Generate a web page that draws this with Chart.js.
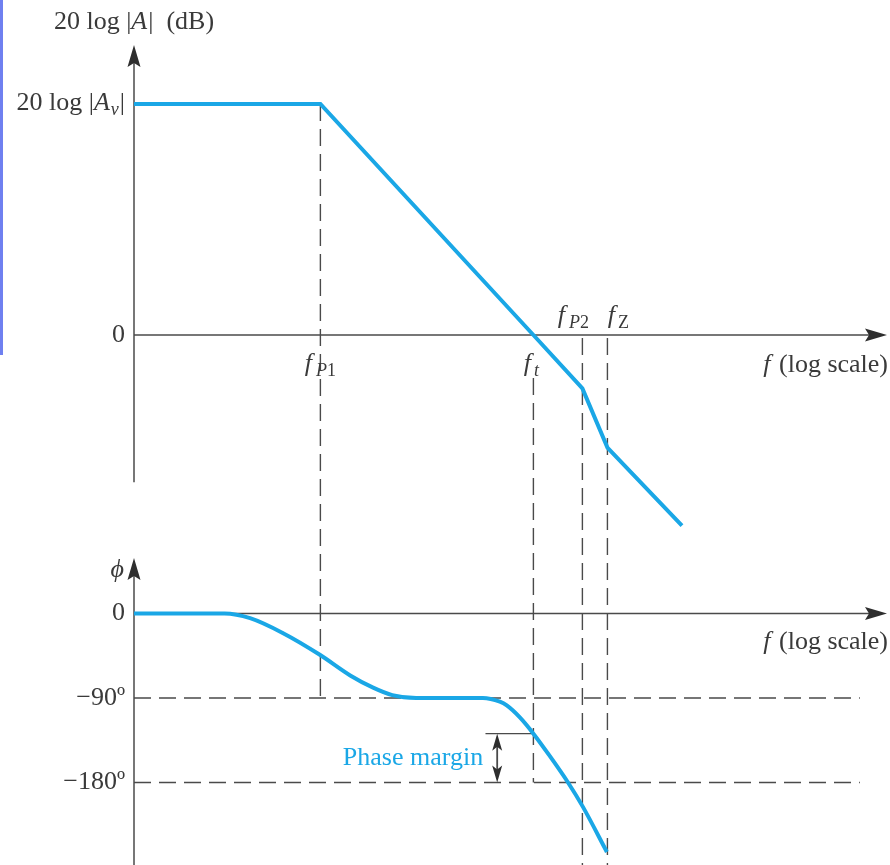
<!DOCTYPE html>
<html>
<head>
<meta charset="utf-8">
<title>Bode plot - phase margin</title>
<script src="https://cdn.jsdelivr.net/npm/chart.js@4.4.1/dist/chart.umd.min.js"></script>
<style>
  body { margin: 0; background: #fff; }
  #wrap { position: relative; width: 890px; height: 865px; }
  #edge { position: absolute; left: 0; top: 0; width: 3px; height: 355px; background: #6f80f0; }
</style>
</head>
<body>
<div id="wrap">
  <canvas id="chart" width="890" height="865"></canvas>
  <div id="edge"></div>
</div>
<script>
// x values are log10(f) in decades, counted from the vertical axis
let gainX = [0, 3.5, 7.5, 8.42, 8.89, 10.29];
let gainDb = [80, 80, 0, -18.5, -39, -66];

let phaseX = [0, 1.7, 2.18, 2.8, 3.49, 4.06, 4.49, 4.85, 5.3, 6.55, 6.87, 7.0, 7.25, 7.5, 7.81, 8.15, 8.43, 8.88];
let phaseDeg = [0, 0, -5, -21, -44, -66, -79, -87, -90, -90, -94, -98, -111, -128, -152, -180, -206, -254];

// break frequencies
let freqX = [3.5, 7.5, 8.42, 8.89];   // fP1, ft, fP2, fZ

let gainTicks = [80, 0];
let phaseTicks = [0, -90, -180];

const INK = "#4a4a4a";
const BLUE = "#1aa7e6";
const SERIF = "'Liberation Serif', 'DejaVu Serif', serif";
const FS = 26;
const SUB = 18;

// 🔤 mixed italic / subscript text
function fontFor(st) {
  let it = st.indexOf("i") >= 0 ? "italic " : "";
  let sz = st.indexOf("s") >= 0 ? SUB : FS;
  return it + sz + "px " + SERIF;
}

function rich(ctx, parts, x, y, align) {
  // third item of a part = extra gap after it
  let w = 0;
  parts.forEach(p => { ctx.font = fontFor(p[1]); w += ctx.measureText(p[0]).width + (p[2] || 0); });
  let cx = x;
  if (align === "right") cx = x - w;
  if (align === "center") cx = x - w / 2;
  ctx.textAlign = "left";
  ctx.textBaseline = "middle";
  parts.forEach(p => {
    ctx.font = fontFor(p[1]);
    let dy = p[1].indexOf("s") >= 0 ? 7 : 0;
    ctx.fillText(p[0], cx, y + dy);
    cx += ctx.measureText(p[0]).width + (p[2] || 0);
  });
}

// ✏️ lines and arrows
function line(ctx, x1, y1, x2, y2, dash) {
  ctx.beginPath();
  ctx.setLineDash(dash || []);
  ctx.moveTo(x1, y1);
  ctx.lineTo(x2, y2);
  ctx.stroke();
  ctx.setLineDash([]);
}

function head(ctx, x, y, dir, len, half) {
  // dir: "up", "down", "right"
  ctx.beginPath();
  if (dir === "up") {
    ctx.moveTo(x, y); ctx.lineTo(x - half, y + len); ctx.lineTo(x, y + len - 4); ctx.lineTo(x + half, y + len);
  } else if (dir === "down") {
    ctx.moveTo(x, y); ctx.lineTo(x - half, y - len); ctx.lineTo(x, y - len + 4); ctx.lineTo(x + half, y - len);
  } else {
    ctx.moveTo(x, y); ctx.lineTo(x - len, y - half); ctx.lineTo(x - len + 4, y); ctx.lineTo(x - len, y + half);
  }
  ctx.closePath();
  ctx.fill();
}

let bodePlugin = {
  id: "bode",
  beforeDatasetsDraw(chart) {
    let ctx = chart.ctx;
    let a = chart.chartArea;
    let sx = chart.scales.x, sg = chart.scales.y, sp = chart.scales.y2;
    let x0 = sx.getPixelForValue(0);
    let g0 = sg.getPixelForValue(0);
    let p0 = sp.getPixelForValue(0);
    let dash = [17, 8];

    ctx.save();
    ctx.strokeStyle = INK;
    ctx.fillStyle = "#2e2e2e";
    ctx.lineWidth = 1.5;

    // axes
    line(ctx, x0, a.top + 8, x0, sg.getPixelForValue(-51));
    line(ctx, x0, g0, a.right - 8, g0);
    line(ctx, x0, sp.getPixelForValue(59) + 8, x0, a.bottom);
    line(ctx, x0, p0, a.right - 8, p0);
    head(ctx, x0, a.top, "up", 22, 6.5);
    head(ctx, a.right, g0, "right", 22, 6.5);
    head(ctx, x0, sp.getPixelForValue(59), "up", 22, 6.5);
    head(ctx, a.right, p0, "right", 22, 6.5);

    // dashed guides
    ctx.lineWidth = 1.4;
    let right = sx.getPixelForValue(13.63);
    phaseTicks.slice(1).forEach(v => {
      let py = sp.getPixelForValue(v);
      line(ctx, x0, py, right, py, dash);
    });
    let fx = freqX.map(v => sx.getPixelForValue(v));
    line(ctx, fx[0], sg.getPixelForValue(gainTicks[0]), fx[0], sp.getPixelForValue(-90), dash);
    line(ctx, fx[1], g0 + 43, fx[1], sp.getPixelForValue(-180), dash);
    line(ctx, fx[2], g0 + 3, fx[2], a.bottom, dash);
    line(ctx, fx[3], g0 + 3, fx[3], a.bottom, dash);

    // phase margin bracket
    let pmIdx = phaseX.indexOf(freqX[1]);
    let pmTop = sp.getPixelForValue(phaseDeg[pmIdx]);
    let pmBot = sp.getPixelForValue(-180);
    let ax = sx.getPixelForValue(6.82);
    ctx.lineWidth = 1.2;
    line(ctx, sx.getPixelForValue(6.6), pmTop, fx[1], pmTop);
    ctx.lineWidth = 1.8;
    line(ctx, ax, pmTop + 8, ax, pmBot - 8);
    head(ctx, ax, pmTop, "up", 17, 5);
    head(ctx, ax, pmBot, "down", 17, 5);
    ctx.restore();
  },
  afterDatasetsDraw(chart) {
    let ctx = chart.ctx;
    let a = chart.chartArea;
    let sx = chart.scales.x, sg = chart.scales.y, sp = chart.scales.y2;
    let x0 = sx.getPixelForValue(0);
    let g0 = sg.getPixelForValue(0);
    let p0 = sp.getPixelForValue(0);
    let lx = x0 - 9;

    ctx.save();
    ctx.fillStyle = "#3a3a3a";

    // gain panel
    rich(ctx, [["20 log |", ""], ["A", "i", 1], ["|  (dB)", ""]], x0, 22, "center");
    rich(ctx, [["20 log |", ""], ["A", "i", 1], ["v", "si", 1], ["|", ""]], lx, sg.getPixelForValue(gainTicks[0]) - 1, "right");
    rich(ctx, [["0", ""]], lx, g0, "right");
    let fx = freqX.map(v => sx.getPixelForValue(v));
    rich(ctx, [["f", "i", 4], ["P", "si"], ["1", "s"]], fx[0], g0 + 29, "center");
    rich(ctx, [["f", "i", 3], ["t", "si"]], fx[1] - 2, g0 + 29, "center");
    rich(ctx, [["f", "i", 4], ["P", "si"], ["2", "s"]], fx[2] - 9, g0 - 19, "center");
    rich(ctx, [["f", "i", 3], ["Z", "s"]], fx[3] + 11, g0 - 19, "center");
    rich(ctx, [["f", "i", 2], [" (log scale)", ""]], a.right + 1, g0 + 30, "right");

    // phase panel
    rich(ctx, [["\u03d5", "i"]], x0 - 10, sp.getPixelForValue(59) + 12, "right");
    rich(ctx, [["0", ""]], lx, p0, "right");
    rich(ctx, [["\u221290\u00ba", ""]], lx, sp.getPixelForValue(phaseTicks[1]), "right");
    rich(ctx, [["\u2212180\u00ba", ""]], lx, sp.getPixelForValue(phaseTicks[2]), "right");
    rich(ctx, [["f", "i", 2], [" (log scale)", ""]], a.right + 1, p0 + 29, "right");

    let pmIdx = phaseX.indexOf(freqX[1]);
    let pmMid = (sp.getPixelForValue(phaseDeg[pmIdx]) + sp.getPixelForValue(-180)) / 2;
    ctx.fillStyle = BLUE;
    rich(ctx, [["Phase margin", ""]], sx.getPixelForValue(6.82) - 14, pmMid, "right");
    ctx.restore();
  }
};

// 📊 CHART
let gainData = gainX.map((x, i) => ({ x: x, y: gainDb[i] }));
let phaseData = phaseX.map((x, i) => ({ x: x, y: phaseDeg[i] }));

let chart = new Chart(document.getElementById("chart"), {
  type: "line",
  data: {
    datasets: [
      {
        label: "20 log |A|",
        data: gainData,
        yAxisID: "y",
        borderColor: BLUE,
        borderWidth: 4,
        pointRadius: 0,
        tension: 0,
        fill: false
      },
      {
        label: "phase",
        data: phaseData,
        yAxisID: "y2",
        borderColor: BLUE,
        borderWidth: 4,
        pointRadius: 0,
        cubicInterpolationMode: "monotone",
        fill: false
      }
    ]
  },
  options: {
    responsive: false,
    animation: false,
    clip: false,
    layout: { padding: { left: 134, right: 3, top: 45, bottom: 0 } },
    plugins: { legend: { display: false }, tooltip: { enabled: false } },
    scales: {
      x: { type: "linear", min: 0, max: 14.14, display: false },
      y: { type: "linear", min: -183.55, max: 100.43, display: false },
      y2: { type: "linear", min: -267.9, max: 605.5, display: false }
    }
  },
  plugins: [bodePlugin]
});
</script>
</body>
</html>
